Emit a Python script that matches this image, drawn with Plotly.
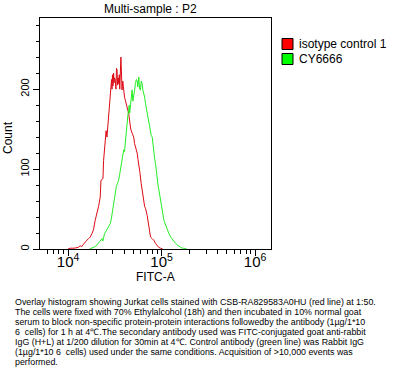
import numpy as np
import plotly.graph_objects as go

# ---- data (log10 FITC-A, count) ----
red_log_fitc = [4.000, 4.022, 4.065, 4.108, 4.130, 4.147, 4.165, 4.183, 4.201, 4.220,
                4.237, 4.255, 4.272, 4.290, 4.308, 4.326, 4.344, 4.352, 4.362, 4.373,
                4.380, 4.390, 4.398, 4.407, 4.416, 4.425, 4.433, 4.442, 4.452, 4.460,
                4.465, 4.470, 4.475, 4.480, 4.487, 4.492, 4.498, 4.505, 4.512, 4.518,
                4.524, 4.530, 4.536, 4.541, 4.548, 4.553, 4.559, 4.565, 4.570, 4.574,
                4.577, 4.585, 4.595, 4.604, 4.613, 4.622, 4.631, 4.640, 4.648, 4.659,
                4.670, 4.685, 4.693, 4.702, 4.711, 4.720, 4.730, 4.739, 4.748, 4.756,
                4.768, 4.782, 4.796, 4.810, 4.819, 4.828, 4.837, 4.846, 4.855, 4.863,
                4.872, 4.882, 4.900, 4.917, 4.935, 4.954, 4.970, 4.989, 5.011]
red_count = [0, 1, 1, 2, 4, 3, 6, 9, 11, 13,
             15, 19, 24, 36, 44, 53, 65, 86, 87, 88,
             111, 124, 136, 148, 140, 152, 161, 172, 186, 196,
             212, 200, 218, 204, 220, 208, 214, 211, 200, 226,
             224, 205, 214, 207, 218, 200, 235, 240, 224, 205,
             199, 210, 195, 190, 186, 180, 178, 173, 170, 157,
             150, 145, 142, 140, 132, 128, 124, 120, 112, 107,
             96, 82, 70, 57, 53, 51, 47, 42, 35, 28,
             20, 15, 13, 11, 7, 4, 2, 1, 0]

green_log_fitc = [4.230, 4.255, 4.270, 4.290, 4.308, 4.326, 4.344, 4.362, 4.372, 4.390,
                  4.416, 4.434, 4.452, 4.466, 4.481, 4.495, 4.505, 4.516, 4.528, 4.541,
                  4.550, 4.559, 4.568, 4.577, 4.586, 4.595, 4.604, 4.613, 4.624, 4.631,
                  4.640, 4.648, 4.654, 4.659, 4.667, 4.676, 4.685, 4.693, 4.702, 4.711,
                  4.720, 4.730, 4.739, 4.745, 4.750, 4.756, 4.765, 4.774, 4.783, 4.792,
                  4.801, 4.810, 4.819, 4.828, 4.837, 4.846, 4.855, 4.863, 4.872, 4.882,
                  4.890, 4.900, 4.909, 4.917, 4.926, 4.935, 4.944, 4.954, 4.962, 4.971,
                  4.980, 4.989, 4.998, 5.008, 5.016, 5.025, 5.043, 5.061, 5.080, 5.097,
                  5.115, 5.132, 5.150, 5.169, 5.186, 5.204, 5.222, 5.240, 5.269]
green_count = [0, 1, 2, 3, 5, 7, 10, 13, 10, 19,
               24, 28, 32, 40, 53, 65, 70, 78, 82, 86,
               92, 99, 105, 111, 118, 124, 122, 136, 149, 161,
               168, 174, 180, 170, 182, 192, 199, 185, 190, 198,
               207, 212, 211, 203, 208, 215, 200, 199, 210, 207,
               198, 195, 190, 182, 176, 170, 163, 157, 150, 145,
               142, 140, 128, 120, 113, 107, 96, 86, 80, 74,
               68, 61, 55, 49, 42, 36, 30, 24, 19, 15,
               12, 9, 7, 5, 3, 2, 1, 1, 0]

series_names = ["isotype control 1", "CY6666"]
line_colors = ["#dd0a14", "#22ee22"]
legend_colors = ["#ff0000", "#00ff00"]

caption_lines = [
    "Overlay histogram showing Jurkat cells stained with CSB-RA829583A0HU (red line) at 1:50.",
    "The cells were fixed with 70% Ethylalcohol (18h) and then incubated in 10% normal goat",
    "serum to block non-specific protein-protein interactions followedby the antibody (1µg/1*10",
    "6  cells) for 1 h at 4℃.The secondary antibody used was FITC-conjugated goat anti-rabbit",
    "IgG (H+L) at 1/200 dilution for 30min at 4℃. Control antibody (green line) was Rabbit IgG",
    "(1µg/1*10 6  cells) used under the same conditions. Acquisition of >10,000 events was",
    "performed.",
]

FONT = "Liberation Sans, Arial, sans-serif"
W, H = 407, 377
L, R, T, B = 40, 271, 18, 249


def px_x(p):
    return (p - L) / (R - L)


def px_y(p):
    return (B - p) / (B - T)


fig = go.Figure()
for lx, cnt, col in [(red_log_fitc, red_count, line_colors[0]),
                     (green_log_fitc, green_count, line_colors[1])]:
    fig.add_trace(go.Scatter(x=np.power(10.0, lx), y=cnt, mode="lines",
                             line=dict(color=col, width=1), showlegend=False,
                             hoverinfo="skip"))

fig.update_layout(
    width=W, height=H,
    margin=dict(l=L, r=W - R, t=T, b=H - B, autoexpand=False),
    paper_bgcolor="white", plot_bgcolor="white",
    font=dict(family=FONT, size=11, color="black"),
    showlegend=False,
)
fig.update_xaxes(type="log", range=[3.70, 6.17], dtick=1, exponentformat="power",
                 showgrid=False, zeroline=False, showline=True, linecolor="black",
                 linewidth=1, mirror=True, ticks="outside", ticklen=6,
                 tickcolor="black", tickfont=dict(size=12), ticklabelstandoff=-6,
                 minor=dict(ticks="outside", ticklen=4, tickcolor="black", dtick="D1",
                            showgrid=False))
fig.update_yaxes(range=[0, 289], tickvals=[0, 100, 200], ticktext=["0", "100", "200"],
                 tickangle=-90, showgrid=False, zeroline=False, showline=True,
                 linecolor="black", linewidth=1, mirror=True, ticks="outside",
                 ticklen=6, tickcolor="black", tickfont=dict(size=11),
                 minor=dict(ticks="outside", ticklen=3, tickcolor="black",
                            tickvals=list(range(20, 289, 20)), showgrid=False))

# title and axis titles
fig.add_annotation(text="Multi-sample : P2", xref="paper", yref="paper",
                   x=px_x(150), y=px_y(9), xanchor="center", yanchor="middle",
                   showarrow=False, font=dict(size=12))
fig.add_annotation(text="FITC-A", xref="paper", yref="paper",
                   x=px_x(155), y=px_y(277), xanchor="center", yanchor="middle",
                   showarrow=False, font=dict(size=12))
fig.add_annotation(text="Count", xref="paper", yref="paper", textangle=-90,
                   x=px_x(8), y=px_y(138), xanchor="center", yanchor="middle",
                   showarrow=False, font=dict(size=12))

# legend drawn by hand
for i, (name, col) in enumerate(zip(series_names, legend_colors)):
    cy = 44 + i * 15
    fig.add_shape(type="rect", xref="paper", yref="paper",
                  x0=px_x(282), x1=px_x(293), y0=px_y(cy - 5.5), y1=px_y(cy + 5.5),
                  fillcolor=col, line=dict(color="black", width=1))
    fig.add_annotation(text=name, xref="paper", yref="paper",
                       x=px_x(297), y=px_y(cy), xanchor="left", yanchor="middle",
                       showarrow=False, font=dict(size=12))

# caption, one annotation per line with 10 px spacing
for i, line in enumerate(caption_lines):
    fig.add_annotation(text=line, xref="paper", yref="paper",
                       x=px_x(13), xanchor="left", y=px_y(301.5 + i * 10.1),
                       yanchor="middle", align="left", showarrow=False,
                       font=dict(family=FONT, size=8.85, color="black"))

fig.write_html("out.html", config={"displayModeBar": False},
               post_script="document.body.style.margin='0';document.body.style.padding='0';")
